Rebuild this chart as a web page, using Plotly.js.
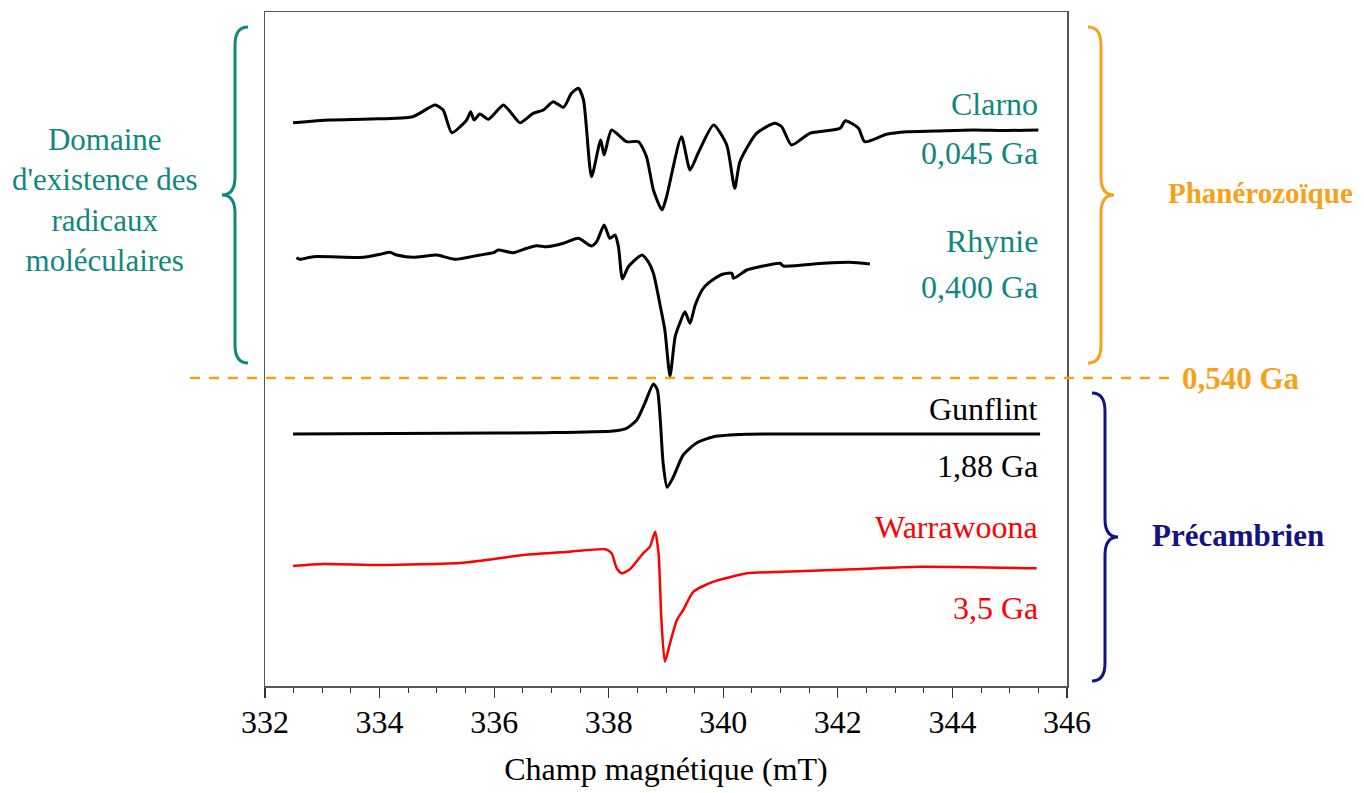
<!DOCTYPE html>
<html>
<head>
<meta charset="utf-8">
<script src="https://cdn.plot.ly/plotly-3.0.1.min.js"></script>
<style>html,body{margin:0;padding:0;background:#fff;}#chart{width:1364px;height:793px;}</style>
</head>
<body>
<div id="chart"></div>
<script>
// Magnetic field (mT) and EPR signal (arbitrary units, stacked offsets)
const clarnoX = [332.49,333.13,333.83,334.58,334.97,335.11,335.26,335.52,335.59,335.65,335.75,335.90,336.16,336.28,336.45,336.68,336.86,337.03,337.21,337.35,337.47,337.56,337.70,337.86,337.92,338.05,338.31,338.52,338.66,338.78,338.93,339.01,339.27,339.42,339.56,339.83,340.06,340.20,340.29,340.58,340.90,341.02,341.19,341.51,342.04,342.13,342.36,342.47,342.85,343.20,343.70,344.36,344.90,345.50];
const clarnoY = [563.3,566,567,569.3,581,576,553.3,566,574.3,566,572,566.7,581,574.3,563.3,572.7,576,584.3,578.7,592.7,597.7,586,509.3,546,531,556,544.3,544.3,529.3,496,476,489.3,549.3,516,532.7,561,541,497.7,524.3,552.7,562.7,559.3,541,552.7,557.7,565.3,557.7,544.3,551.7,554.3,555,556,555.5,556];

const rhynieX = [332.55,332.61,332.84,333.72,334.01,334.18,334.30,334.59,335.00,335.32,335.75,335.99,336.07,336.33,336.57,336.74,336.92,337.21,337.47,337.70,337.79,337.92,338.02,338.11,338.17,338.24,338.34,338.58,338.69,338.78,338.90,338.98,339.07,339.16,339.24,339.33,339.42,339.51,339.65,339.83,340.00,340.15,340.18,340.41,340.64,340.99,341.05,341.75,342.21,342.56];
const rhynieY = [428.3,426.7,429.3,428.7,431.7,433.7,431,428.7,431,426.7,431,433.3,436,433.3,437.7,440.3,439.3,442.7,447.7,440,444.3,461,447.7,451,439.3,407,419,431,424.3,412.7,380,356,310,349.3,362.7,374.3,362.7,381,397.7,406.7,412,412.7,407.7,416,419.3,422.7,420,422.7,423.7,422];

const gunflintX = [332.49,335.17,336.92,338.08,338.31,338.49,338.63,338.78,338.85,338.90,338.95,339.02,339.13,339.30,339.54,339.83,340.41,341.50,343.00,345.53];
const gunflintY = [252,252.7,253.3,255,257.7,266,282.7,302,296,266,222.7,198.7,209.3,231,243.3,249.3,251.7,252,252,252];

const warraX = [332.49,333.02,334.01,335.46,336.51,337.32,337.94,338.05,338.14,338.23,338.37,338.60,338.72,338.81,338.87,338.92,338.98,339.07,339.19,339.30,339.48,339.83,340.41,340.52,342.27,343.43,345.47];
const warraY = [120,122,121,123.3,131,134.3,136.7,132.7,117.7,112.7,116.7,132.7,139.3,154.3,132.7,66,24.3,42.7,66,76,94.3,104.3,112.7,113.3,116.7,119.3,117.7];

const sampleNames = ["Clarno","Rhynie","Gunflint","Warrawoona"];
const sampleAges = ["0,045 Ga","0,400 Ga","1,88 Ga","3,5 Ga"];
const nameY = [582,445,277,159];
const ageY = [533,399,220,78];
const textColors = ["#10877f","#10877f","#000000","#ff0000"];
const lineColors = ["#000000","#000000","#000000","#ff0000"];
const lineWidths = [3,3,3,2.5];
const boundaryLabel = "0,540 Ga";
const boundaryY = 308;

const xs = [clarnoX, rhynieX, gunflintX, warraX];
const ys = [clarnoY, rhynieY, gunflintY, warraY];

const traces = xs.map((x,i)=>({
  x:x, y:ys[i], type:'scatter', mode:'lines', name:sampleNames[i],
  line:{color:lineColors[i], width:lineWidths[i], shape:'spline', smoothing:0.6},
  showlegend:false, hoverinfo:'skip'
}));

// plot area geometry (for decorative brace paths)
const L=265, R=1067, T=12, B=686;
const px = p => (p-L)/(R-L);
const py = p => (B-p)/(B-T);
function brace(xEnd, xMid, xTip, yTop, yBot){
  const yc=(yTop+yBot)/2, c=18;
  const P=(a,b)=>px(a).toFixed(5)+','+py(b).toFixed(5);
  return 'M'+P(xEnd,yTop)+' Q'+P(xMid,yTop)+' '+P(xMid,yTop+c)+
         ' L'+P(xMid,yc-c)+' Q'+P(xMid,yc)+' '+P(xTip,yc)+
         ' Q'+P(xMid,yc)+' '+P(xMid,yc+c)+
         ' L'+P(xMid,yBot-c)+' Q'+P(xMid,yBot)+' '+P(xEnd,yBot);
}

const serif = '"Liberation Serif", "Times New Roman", Times, serif';
const annotations = [];
sampleNames.forEach((n,i)=>{
  annotations.push({x:345.53, y:nameY[i], xref:'x', yref:'y', text:n, showarrow:false, xanchor:'right', yanchor:'middle', font:{family:serif, size:32, color:textColors[i]}});
  annotations.push({x:345.53, y:ageY[i], xref:'x', yref:'y', text:sampleAges[i], showarrow:false, xanchor:'right', yanchor:'middle', font:{family:serif, size:32, color:textColors[i]}});
});
annotations.push({x:px(105), y:486, xref:'paper', yref:'y', text:"Domaine<br>d'existence des<br>radicaux<br>moléculaires", showarrow:false, xanchor:'center', yanchor:'middle', align:'center', font:{family:serif, size:31, color:'#10877f'}});
annotations.push({x:px(1260), y:493, xref:'paper', yref:'y', text:"<b>Phanérozoïque</b>", showarrow:false, xanchor:'center', yanchor:'middle', font:{family:serif, size:29, color:'#f7a11a'}});
annotations.push({x:px(1241), y:boundaryY, xref:'paper', yref:'y', text:"<b>"+boundaryLabel+"</b>", showarrow:false, xanchor:'center', yanchor:'middle', font:{family:serif, size:31, color:'#f7a11a'}});
annotations.push({x:px(1238), y:151, xref:'paper', yref:'y', text:"<b>Précambrien</b>", showarrow:false, xanchor:'center', yanchor:'middle', font:{family:serif, size:31, color:'#141480'}});

const shapes = [
  {type:'line', xref:'paper', yref:'y', x0:px(190), x1:px(1172), y0:boundaryY, y1:boundaryY, line:{color:'#f7a11a', width:2.5, dash:'10px,9px'}, layer:'above'},
  {type:'path', xref:'paper', yref:'paper', path:brace(248,235,222,27,363), line:{color:'#10877f', width:3}},
  {type:'path', xref:'paper', yref:'paper', path:brace(1088,1101,1114,27,363), line:{color:'#f7a11a', width:3}},
  {type:'path', xref:'paper', yref:'paper', path:brace(1092,1105,1118,393,681), line:{color:'#141480', width:3}}
];

const layout = {
  width:1364, height:793, autosize:false,
  font:{family:serif},
  margin:{l:L, r:1364-R, t:T, b:793-B, pad:0},
  paper_bgcolor:'#ffffff', plot_bgcolor:'#ffffff',
  showlegend:false,
  xaxis:{range:[332,346], dtick:2, tick0:332, ticks:'outside', ticklen:10, tickwidth:1.2, tickcolor:'#333',
         ticklabelstandoff:-3,
         minor:{dtick:0.5, ticks:'outside', ticklen:5, tickcolor:'#333', tickwidth:1},
         showline:true, linecolor:'#555', linewidth:1.5, mirror:true, showgrid:false, zeroline:false,
         tickfont:{family:serif, size:32, color:'#000'},
         title:{text:'Champ magnétique (mT)', font:{family:serif, size:32, color:'#000'}, standoff:18}},
  yaxis:{range:[0,674], showticklabels:false, ticks:'', showline:true, linecolor:'#555', linewidth:1.5, mirror:true, showgrid:false, zeroline:false},
  annotations:annotations, shapes:shapes
};

Plotly.newPlot('chart', traces, layout, {staticPlot:true, displayModeBar:false});
</script>
</body>
</html>
